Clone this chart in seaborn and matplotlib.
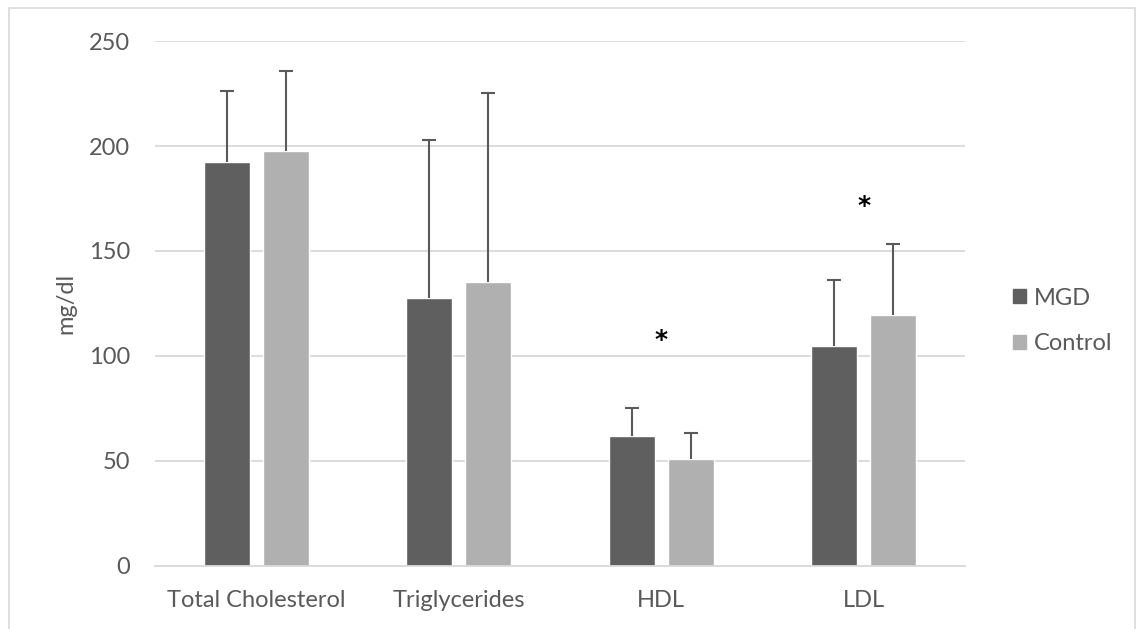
import matplotlib.pyplot as plt
import matplotlib.patches as mpatches
import pandas as pd
import seaborn as sns

categories = ['Total Cholesterol', 'Triglycerides', 'HDL', 'LDL']
groups = ['MGD', 'Control']
mgd_mean = [192.6, 127.7, 61.9, 104.7]
mgd_sd = [33.6, 75.0, 13.3, 31.4]
control_mean = [197.6, 135.1, 51.0, 119.3]
control_sd = [38.3, 90.0, 12.4, 33.9]
star_cats = ['HDL', 'LDL']
star_y = [109, 172.5]

colours = {'MGD': '#5f5f5f', 'Control': '#b0b0b0'}
txt = '#595959'

df = pd.DataFrame({
    'category': categories * 2,
    'group': ['MGD'] * 4 + ['Control'] * 4,
    'value': mgd_mean + control_mean,
    'sd': mgd_sd + control_sd,
})

sns.set_style('white')
plt.rcParams['font.family'] = ['Lato', 'DejaVu Sans']

fig = plt.figure(figsize=(11.44, 6.29), dpi=100)
ax = fig.add_axes([0.1355, 0.1002, 0.708, 0.8346])

sns.barplot(data=df, x='category', y='value', hue='group', order=categories,
            hue_order=groups, palette=colours, width=0.582, gap=0.22,
            errorbar=None, saturation=1, ax=ax, legend=False)

# upper-only error bars (plus direction), placed on the bar patches
for grp, bars in zip(groups, ax.containers):
    sub = df[df.group == grp].set_index('category').loc[categories]
    xs = [b.get_x() + b.get_width() / 2 for b in bars]
    tops = sub['value'] + sub['sd']
    ax.vlines(xs, sub['value'], tops, color='#5a5a5a', linewidth=1.5)
    ax.plot(xs, tops, ls='none', marker='_', markersize=10,
            markeredgewidth=1.5, color='#5a5a5a')

for c, y in zip(star_cats, star_y):
    ax.text(categories.index(c), y, '*', ha='center', va='center_baseline',
            fontsize=18, color='black', family='DejaVu Sans', fontweight='bold')

ax.set_xlim(-0.5, 3.5)
ax.set_ylim(0, 250)
ax.set_yticks([0, 50, 100, 150, 200, 250])
ax.yaxis.grid(True, color='#d9d9d9', linewidth=1.3)
ax.set_axisbelow(True)
for s in ['left', 'right', 'top']:
    ax.spines[s].set_visible(False)
ax.spines['bottom'].set_color('#d9d9d9')
ax.spines['bottom'].set_linewidth(1.3)
ax.tick_params(axis='both', length=0, labelsize=17, colors=txt)
ax.tick_params(axis='y', pad=18)
ax.tick_params(axis='x', pad=17)
ax.set_xlabel('')
ax.set_ylabel('mg/dl', fontsize=17, color=txt)
ax.yaxis.set_label_coords((76 - 155) / 810, 0.5)

handles = [mpatches.Patch(color=colours[g], label=g) for g in groups]
ax.legend(handles=handles, loc='center left', bbox_to_anchor=(1.059, 0.4667),
          frameon=False, fontsize=17, labelcolor=txt, handlelength=0.55,
          handleheight=0.55, handletextpad=0.35, labelspacing=1.05,
          borderpad=0, borderaxespad=0)

fig.patches.append(mpatches.Rectangle((9 / 1144, -0.01), 1126 / 1144, 1 - 8 / 629 + 0.01,
                                      transform=fig.transFigure, fill=False,
                                      edgecolor='#d9d9d9', linewidth=1.2))

fig.savefig('out.png', dpi=100)
